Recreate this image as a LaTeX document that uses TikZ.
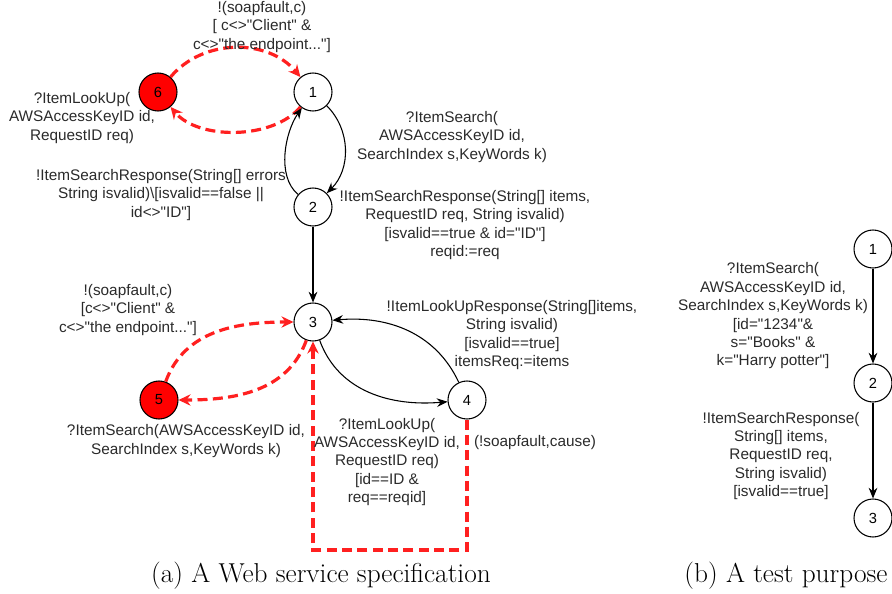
\documentclass[tikz,border=0pt]{standalone}
\usepackage{fontspec}
\newfontfamily\diagfont{Liberation Sans}
\usetikzlibrary{arrows.meta}
\definecolor{fltred}{HTML}{FF2020}
\definecolor{txtgray}{HTML}{2A2A2A}
\begin{document}
\begin{tikzpicture}[x=0.75pt, y=0.75pt,
	state/.style={circle, draw, line width=0.8pt, minimum size=28.5pt, inner sep=0pt, font=\diagfont\fontsize{11}{13}\selectfont},
	fault/.style={state, fill=red},
	trans/.style={line width=0.8pt, -{Stealth[length=8pt, width=6.5pt]}},
	flt/.style={fltred, line width=2.4pt, dash pattern=on 7.5pt off 4pt, -{Stealth[length=9pt, width=8.5pt, inset=3pt]}},
	lbl/.style={align=center, text=txtgray, inner sep=0pt, font=\diagfont\fontsize{11.5}{13.8}\selectfont},
	captext/.style={inner sep=0pt, font=\fontsize{20.5}{24}\selectfont}]
	\useasboundingbox (0,0) rectangle (892,-593);
	% specification states
	\node[fault] (s6) at (158,-92) {6};
	\node[state] (s1) at (313,-92) {1};
	\node[state] (s2) at (313,-207) {2};
	\node[state] (s3) at (313,-322) {3};
	\node[fault] (s5) at (159,-400) {5};
	\node[state] (s4) at (467,-400) {4};
	\coordinate (back) at (467,-550);
	% transitions
	\draw[flt] (s6) to[out=50, in=130] (s1);
	\draw[flt] (s1) to[out=-130, in=-50, looseness=0.85] (s6);
	\draw[trans] (s1) to[out=-45, in=45] (s2);
	\draw[trans] (s2) to[out=140, in=-125, looseness=0.85] (s1);
	\draw[trans] (s2) -- (s3);
	\draw[trans] (s3) to[out=-70, in=185] (s4);
	\draw[trans] (s4) to[out=115, in=5] (s3);
	\draw[flt] (s5) to[out=70, in=180] (s3);
	\draw[flt] (s3) to[out=-110, in=0] (s5);
	\draw[flt] (s4) -- (back) -| (s3);
	% labels
	\node[lbl] (l61) at (262,-27) {!(soapfault,c)\\{[} c<>"Client" \&\\c<>"the endpoint..."]};
	\node[lbl] (l16) at (82,-118) {?ItemLookUp(\\AWSAccessKeyID id,\\RequestID req)};
	\node[lbl] (l12) at (452,-137) {?ItemSearch(\\AWSAccessKeyID id,\\SearchIndex s,KeyWords k)};
	\node[lbl] (l21) at (161,-195) {!ItemSearchResponse(String[] errors\\String isvalid)\textbackslash[isvalid==false ||\\id<>"ID"]};
	\node[lbl] (l23) at (465,-225) {!ItemSearchResponse(String[] items,\\RequestID req, String isvalid)\\{[}isvalid==true \& id="ID"]\\reqid:=req};
	\node[lbl] (l53) at (128,-310) {!(soapfault,c)\\{[}c<>"Client" \&\\c<>"the endpoint..."]};
	\node[lbl] (l35) at (186,-441) {?ItemSearch(AWSAccessKeyID id,\\SearchIndex s,KeyWords k)};
	\node[lbl] (l43) at (512,-335) {!ItemLookUpResponse(String[]items,\\String isvalid)\\{[}isvalid==true]\\itemsReq:=items};
	\node[lbl] (l34) at (387,-462) {?ItemLookUp(\\AWSAccessKeyID id,\\RequestID req)\\{[}id==ID \&\\req==reqid]};
	\node[lbl] (lbk) at (535,-443) {(!soapfault,cause)};
	% test purpose
	\node[state] (t1) at (873,-249) {1};
	\node[state] (t2) at (873,-383) {2};
	\node[state] (t3) at (873,-518) {3};
	\draw[trans] (t1) -- (t2);
	\draw[trans] (t2) -- (t3);
	\node[lbl] (lt12) at (773,-316) {?ItemSearch(\\AWSAccessKeyID id,\\SearchIndex s,KeyWords k)\\{[}id="1234"\&\\s="Books" \&\\k="Harry potter"]};
	\node[lbl] (lt23) at (781,-456) {!ItemSearchResponse(\\String[] items,\\RequestID req,\\String isvalid)\\{[}isvalid==true]};
	% captions
	\node[captext] (capa) at (321,-576) {(a) A Web service specification};
	\node[captext] (capb) at (786,-576) {(b) A test purpose};
\end{tikzpicture}
\end{document}
